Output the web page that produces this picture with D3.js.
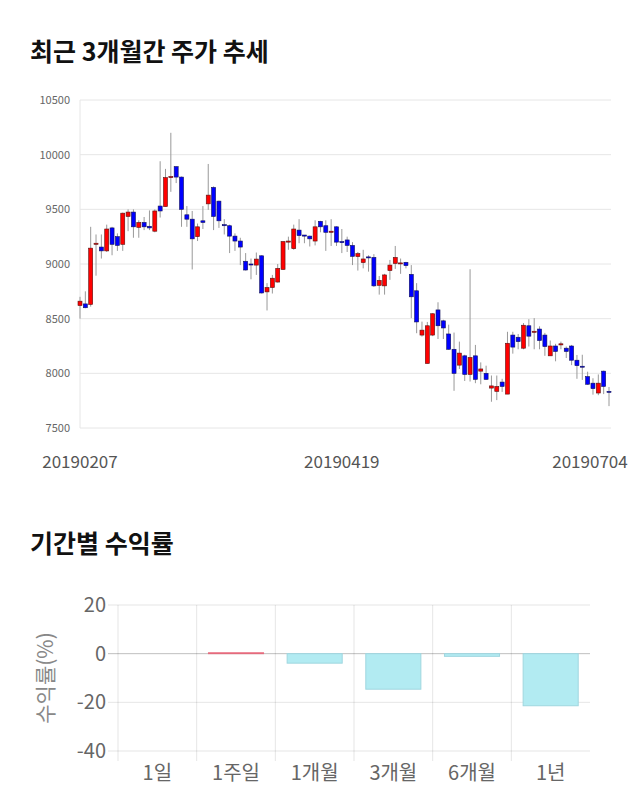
<!DOCTYPE html>
<html>
<head>
<meta charset="utf-8">
<script src="https://cdn.jsdelivr.net/npm/d3@7"></script>
<style>
  body { margin: 0; background: #fff; }
  text { font-family: "Noto Sans CJK KR", "Noto Sans", sans-serif; }
</style>
</head>
<body>
<svg id="chart"></svg>
<script>
// daily candles, 2019-02-07 .. 2019-07-04
const opens = [8620,8635,8630,9180,9155,9120,9330,9250,9180,9435,9475,9335,9380,9345,9300,9530,9525,9790,9890,9795,
  9450,9410,9250,9395,9550,9700,9575,9360,9350,9255,9210,9025,9000,8990,9075,8745,8785,8835,8950,9200,
  9140,9310,9265,9255,9210,9390,9350,9290,9340,9205,9220,9170,9068,9013,9065,9060,8805,8800,8940,9005,
  9005,9015,8905,8755,8350,8090,8350,8580,8480,8360,8220,8075,8160,7990,8160,8020,8000,7865,7835,7920,
  7810,8350,8330,8230,8435,8375,8405,8350,8160,8250,8260,8230,8250,8120,8065,7970,7910,7820,8020,7835];
const highs = [8700,8750,9340,9270,9270,9360,9340,9280,9470,9500,9500,9400,9430,9490,9500,9940,9870,10200,9895,9800,
  9530,9485,9370,9530,9915,9710,9580,9410,9360,9280,9240,9100,9050,9105,9080,8825,8900,9000,9210,9250,
  9360,9410,9265,9260,9400,9395,9400,9410,9345,9320,9250,9200,9110,9130,9080,9090,8890,8910,9037,9165,
  9050,9020,8990,8825,8473,8470,8550,8650,8490,8445,8373,8290,8170,8952,8260,8100,8070,7980,7980,7950,
  8380,8380,8360,8460,8495,8505,8430,8370,8300,8270,8290,8245,8260,8168,8170,8015,7955,7990,8025,7875];
const lows = [8500,8595,8610,8893,9050,9110,9080,9120,9120,9300,9240,9240,9310,9310,9290,9425,9525,9660,9740,9340,
  9340,8950,9210,9320,9495,9310,9330,9270,9100,9120,8990,8940,8860,8900,8730,8575,8730,8830,8945,9130,
  9130,9190,9190,9160,9170,9290,9120,9165,9165,9100,9110,8990,8940,8960,8930,8790,8720,8720,8855,8955,
  8910,8960,8505,8367,8336,8090,8340,8314,8314,8215,7840,8040,7930,7925,7910,7900,7940,7740,7755,7830,
  7810,8180,8220,8220,8245,8220,8220,8160,8160,8110,8220,8140,8075,7950,7940,7895,7805,7800,7810,7700];
const closes = [8660,8600,9145,9190,9120,9320,9180,9170,9465,9475,9340,9380,9340,9330,9485,9485,9790,9800,9795,9500,
  9410,9230,9340,9380,9630,9435,9395,9350,9255,9210,9155,8945,8995,9045,8735,8785,8870,8960,9205,9210,
  9320,9260,9255,9230,9340,9340,9290,9300,9200,9195,9170,9070,9095,9046,9060,8800,8850,8900,8990,9060,
  9010,8985,8700,8470,8395,8435,8545,8435,8415,8220,8000,8185,7990,8145,7945,8040,7945,7885,7880,7880,
  8275,8240,8290,8440,8340,8385,8300,8245,8250,8200,8270,8200,8120,8070,8060,7900,7860,7910,7880,7830];
const priceTicks = [7500, 8000, 8500, 9000, 9500, 10000, 10500];
const dateLabels = ["20190207", "20190419", "20190704"];
const dateLabelIdx = [0, 49, 99];

// period returns
const periods = ["1일", "1주일", "1개월", "3개월", "6개월", "1년"];
const returns = [0, 0.4, -3.9, -14.6, -1.1, -21.4];
const returnTicks = [20, 0, -20, -40];

const svg = d3.select("#chart")
    .attr("width", 640)
    .attr("height", 810);

svg.append("rect").attr("width", 640).attr("height", 810).attr("fill", "#fff");

// ---------- candlestick chart ----------
svg.append("text")
    .attr("x", 30).attr("y", 61)
    .attr("font-size", 25).attr("font-weight", "bold").attr("fill", "#111")
    .text("최근 3개월간 주가 추세");

const days = d3.range(opens.length);
const x = d3.scalePoint().domain(days).range([80, 609]);
const y = d3.scaleLinear().domain([7500, 10500]).range([428, 100]);

svg.append("g")
    .selectAll("line")
    .data(priceTicks)
    .join("line")
    .attr("x1", 80).attr("x2", 611)
    .attr("y1", d => y(d)).attr("y2", d => y(d))
    .attr("stroke", "#e6e6e6");

svg.append("line")
    .attr("x1", 80).attr("x2", 80)
    .attr("y1", y(10500)).attr("y2", y(7500))
    .attr("stroke", "#e6e6e6");

svg.append("g")
    .selectAll("text")
    .data(priceTicks)
    .join("text")
    .attr("x", 70).attr("y", d => y(d) + 4)
    .attr("text-anchor", "end")
    .attr("font-family", "'Liberation Sans', Arial, sans-serif")
    .attr("font-size", 11).attr("fill", "#666")
    .text(d => d);

const candles = svg.append("g");
candles.selectAll("line")
    .data(days)
    .join("line")
    .attr("x1", i => x(i)).attr("x2", i => x(i))
    .attr("y1", i => y(highs[i])).attr("y2", i => y(lows[i]))
    .attr("stroke", "#999").attr("stroke-width", 1);

const bodyW = 4;
candles.selectAll("rect")
    .data(days)
    .join("rect")
    .attr("x", i => x(i) - bodyW / 2)
    .attr("width", bodyW)
    .attr("y", i => y(Math.max(opens[i], closes[i])))
    .attr("height", i => Math.max(1, Math.abs(y(opens[i]) - y(closes[i]))))
    .attr("fill", i => closes[i] >= opens[i] ? "#ff0000" : "#0000ff")
    .attr("stroke", i => closes[i] >= opens[i] ? "#5a1010" : "#10105a")
    .attr("stroke-width", 0.6);

svg.append("g")
    .selectAll("text")
    .data(dateLabels)
    .join("text")
    .attr("x", (d, k) => Math.min(x(dateLabelIdx[k]), 590))
    .attr("y", 468)
    .attr("text-anchor", "middle")
    .attr("font-size", 17).attr("fill", "#555")
    .text(d => d);

// ---------- period return bar chart ----------
svg.append("text")
    .attr("x", 30).attr("y", 553)
    .attr("font-size", 25).attr("font-weight", "bold").attr("fill", "#111")
    .text("기간별 수익률");

const bx = d3.scaleBand().domain(periods).range([118, 590]);
const by = d3.scaleLinear().domain([-40, 20]).range([751, 605]);

const grid = svg.append("g").attr("stroke", "rgba(0,0,0,0.1)");
grid.selectAll(".h")
    .data(returnTicks)
    .join("line")
    .attr("x1", 108).attr("x2", 590)
    .attr("y1", d => by(d)).attr("y2", d => by(d))
    .attr("stroke", d => d === 0 ? "rgba(0,0,0,0.25)" : "rgba(0,0,0,0.1)");
grid.selectAll(".v")
    .data(periods)
    .join("line")
    .attr("x1", d => bx(d)).attr("x2", d => bx(d))
    .attr("y1", by(20)).attr("y2", by(-40) + 10);

svg.append("g")
    .selectAll("text")
    .data(returnTicks)
    .join("text")
    .attr("x", 106).attr("y", d => by(d) + 7)
    .attr("text-anchor", "end")
    .attr("font-family", "'Liberation Sans', Arial, sans-serif")
    .attr("font-size", 20).attr("fill", "#666")
    .text(d => d);

const barW = bx.bandwidth() * 0.7;
svg.append("g")
    .selectAll("rect")
    .data(periods)
    .join("rect")
    .attr("x", d => bx(d) + (bx.bandwidth() - barW) / 2)
    .attr("width", barW)
    .attr("y", (d, i) => by(Math.max(0, returns[i])))
    .attr("height", (d, i) => Math.abs(by(returns[i]) - by(0)))
    .attr("fill", (d, i) => returns[i] >= 0 ? "rgba(255,99,132,0.4)" : "#b2ebf2")
    .attr("stroke", (d, i) => returns[i] >= 0 ? "rgba(230,90,110,0.8)" : "#9fd6df")
    .attr("stroke-width", 1);

svg.append("g")
    .selectAll("text")
    .data(periods)
    .join("text")
    .attr("x", d => bx(d) + bx.bandwidth() / 2)
    .attr("y", 780)
    .attr("text-anchor", "middle")
    .attr("font-size", 20).attr("fill", "#666")
    .text(d => d);

svg.append("text")
    .attr("transform", `translate(53, ${by(-10)}) rotate(-90)`)
    .attr("text-anchor", "middle")
    .attr("font-size", 21).attr("fill", "#888")
    .text("수익률(%)");
</script>
</body>
</html>
